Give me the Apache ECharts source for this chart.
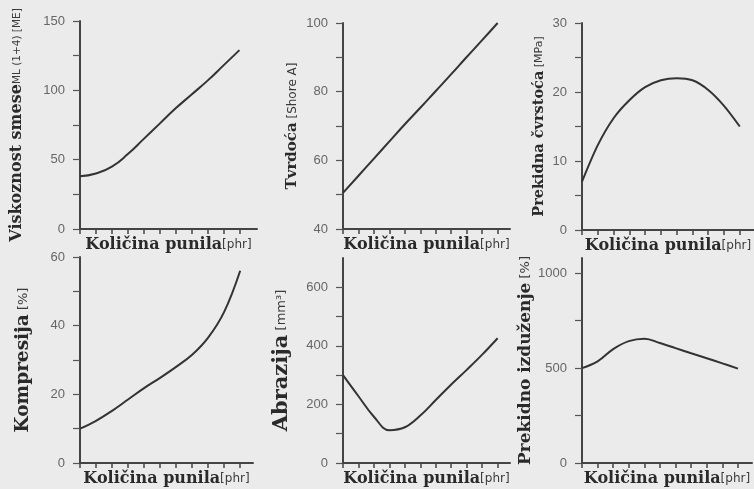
<!DOCTYPE html>
<html>
<head>
<meta charset="utf-8">
<script src="https://cdn.jsdelivr.net/npm/echarts@6/dist/echarts.min.js"></script>
<style>
html,body{margin:0;padding:0;background:#ebebeb;}
#c{width:754px;height:489px;}
</style>
</head>
<body>
<div id="c"></div>
<script>
// Filler amount (x) – no tick labels in the original
const fillerAmount = [0, 10, 20, 30, 40, 50, 60, 70, 80, 90, 100];

// Series values
const viscosity       = [38, 40, 45, 54, 65, 76, 87, 97, 107, 118, 129];
const hardness        = [50.5, 55.5, 60.5, 65.5, 70.5, 75.3, 80.2, 85.1, 90.1, 95, 100];
const tensileStrength = [7, 12.3, 16.2, 18.8, 20.7, 21.7, 22, 21.7, 20.3, 18, 15];
const compression     = [10, 12.3, 15.2, 18.5, 21.8, 24.8, 28, 31.5, 36.5, 44, 56];
const abrasion        = [300, 228, 158, 112, 122, 162, 215, 268, 318, 370, 426];
const elongation      = [500, 535, 600, 642, 655, 632, 605, 578, 552, 525, 497];

// Y tick values / labels per panel
const viscTicks = [0, 25, 50, 75, 100, 125, 150];
const viscLabels = [0, 50, 100, 150];
const hardTicks = [40, 50, 60, 70, 80, 90, 100];
const hardLabels = [40, 60, 80, 100];
const tensTicks = [0, 5, 10, 15, 20, 25, 30];
const tensLabels = [0, 10, 20, 30];
const compTicks = [0, 10, 20, 30, 40, 50, 60];
const compLabels = [0, 20, 40, 60];
const abrTicks = [0, 100, 200, 300, 400, 500, 600];
const abrLabels = [0, 200, 400, 600];
const elongTicks = [0, 250, 500, 750, 1000];
const elongLabels = [0, 500, 1000];

const xName = '{b|Količina punila}{s|[phr]}';

const panels = [
  {grid:{left:80, top:21, width:177, height:208}, xmax:111, ymin:0, ymax:150, ticks:viscTicks, labels:viscLabels, data:viscosity,
   name:'{b|Viskoznost smese}{s|ML (1+4) [ME]}', gap:55, fs:16, ss:10.5, smooth:0.5},
  {grid:{left:343, top:23, width:167, height:206}, xmax:108, ymin:40, ymax:100, ticks:hardTicks, labels:hardLabels, data:hardness,
   name:'{b|Tvrdoća}{s| [Shore A]}', gap:43, fs:15, ss:12, smooth:0.5},
  {grid:{left:582, top:23, width:172, height:207}, xmax:109, ymin:0, ymax:30, ticks:tensTicks, labels:tensLabels, data:tensileStrength,
   name:'{b|Prekidna čvrstoća}{s| [MPa]}', gap:35, fs:14.5, ss:11, smooth:0.3},
  {grid:{left:80, top:257, width:173, height:206}, xmax:108, ymin:0, ymax:60, ticks:compTicks, labels:compLabels, data:compression,
   name:'{b|Kompresija}{s| [%]}', gap:47, fs:18.5, ss:13, smooth:0.4},
  {grid:{left:343, top:258, width:167, height:205}, xmax:108, ymin:0, ymax:700, ticks:abrTicks, labels:abrLabels, data:abrasion,
   name:'{b|Abrazija}{s| [mm³]}', gap:51, fs:21, ss:13, smooth:0.4},
  {grid:{left:582, top:258, width:170, height:205}, xmax:109, ymin:0, ymax:1080, ticks:elongTicks, labels:elongLabels, data:elongation,
   name:'{b|Prekidno izduženje}{s| [%]}', gap:44, fs:17, ss:13, smooth:0.4}
];

function rich(fs, ss) {
  return {
    b:{fontFamily:'DejaVu Serif', fontWeight:'bold', fontSize:fs, color:'#2a2a2a'},
    s:{fontFamily:'DejaVu Sans', fontSize:ss, color:'#3a3a3a'}
  };
}
const axisLineStyle = {color:'#444', width:2};

const option = {
  backgroundColor:'#ebebeb',
  animation:false,
  grid: panels.map(p => Object.assign({containLabel:false}, p.grid)),
  xAxis: panels.map((p,i) => ({
    type:'value', gridIndex:i, min:0, max:p.xmax,
    axisLine:{show:true, onZero:false, lineStyle:axisLineStyle},
    axisTick:{show:true, inside:false, length:5, lineStyle:{color:'#444', width:1.5}, customValues:fillerAmount},
    axisLabel:{show:false},
    splitLine:{show:false},
    name:xName, nameLocation:'middle', nameGap:8,
    nameTextStyle:{rich:rich(16, 12)}
  })),
  yAxis: panels.map((p,i) => ({
    type:'value', gridIndex:i, min:p.ymin, max:p.ymax,
    axisLine:{show:true, onZero:false, lineStyle:axisLineStyle},
    axisTick:{show:true, inside:false, length:7, lineStyle:{color:'#555', width:1.2}, customValues:p.ticks},
    axisLabel:{show:true, customValues:p.labels, margin:15, fontFamily:'Liberation Sans', fontSize:13, color:'#666',
      formatter: v => String(v)},
    splitLine:{show:false},
    name:p.name, nameLocation:'middle', nameGap:p.gap,
    nameTextStyle:{rich:rich(p.fs, p.ss)}
  })),
  series: panels.map((p,i) => ({
    type:'line', xAxisIndex:i, yAxisIndex:i,
    data: fillerAmount.map((x,k) => [x, p.data[k]]),
    smooth:p.smooth, showSymbol:false,
    lineStyle:{color:'#333', width:2}
  }))
};

const chart = echarts.init(document.getElementById('c'));
chart.setOption(option);
</script>
</body>
</html>
